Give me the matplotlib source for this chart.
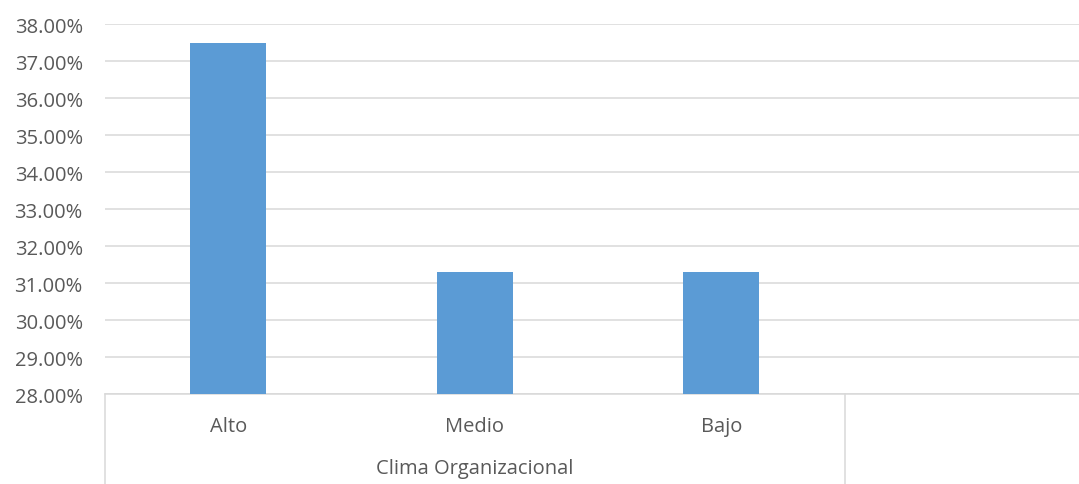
import matplotlib.pyplot as plt
import matplotlib.transforms as mtransforms
from matplotlib.ticker import PercentFormatter

# data
categories = ['Alto', 'Medio', 'Bajo', '']
values = [37.5, 31.3, 31.3, None]
group_label = 'Clima Organizacional'
y_ticks = [28, 29, 30, 31, 32, 33, 34, 35, 36, 37, 38]

plt.rcParams['font.family'] = ['Open Sans', 'DejaVu Sans']
text_color = '#595959'
grid_color = '#d9d9d9'
bar_color = '#5b9bd5'
fs = 14.5

W, H = 1079, 485
fig = plt.figure(figsize=(W / 100, H / 100), dpi=100)
ax = fig.add_axes([105 / W, 1 - 395 / H, (1091 - 105) / W, (395 - 25) / H])

x = [i for i, v in enumerate(values) if v is not None]
ax.bar(x, [values[i] for i in x], width=0.31, color=bar_color, zorder=3)

ax.set_xlim(-0.5, len(categories) - 0.5)
ax.set_ylim(y_ticks[0], y_ticks[-1])
ax.set_yticks(y_ticks)
ax.yaxis.set_major_formatter(PercentFormatter(decimals=2))
ax.tick_params(axis='y', length=0, pad=16, labelsize=fs, labelcolor=text_color)
ax.set_xticks([])
ax.grid(axis='y', color=grid_color, linewidth=1.1, zorder=0)
for s in ['top', 'right', 'left']:
    ax.spines[s].set_visible(False)
ax.spines['bottom'].set_color(grid_color)
ax.spines['bottom'].set_linewidth(1.1)

# multi-level category axis below the plot
tr = mtransforms.blended_transform_factory(ax.transData, fig.transFigure)
y_top = 1 - 395 / H
for xs in [-0.5, 2.5]:
    ax.plot([xs, xs], [y_top, 0], transform=tr, color=grid_color,
            linewidth=1.1, clip_on=False)
for i, c in enumerate(categories):
    ax.text(i, 1 - 427 / H, c, transform=tr, ha='center', va='center',
            fontsize=fs, color=text_color)
ax.text(1, 1 - 469 / H, group_label, transform=tr, ha='center', va='center',
        fontsize=fs, color=text_color)

fig.savefig('out.png', dpi=100)
